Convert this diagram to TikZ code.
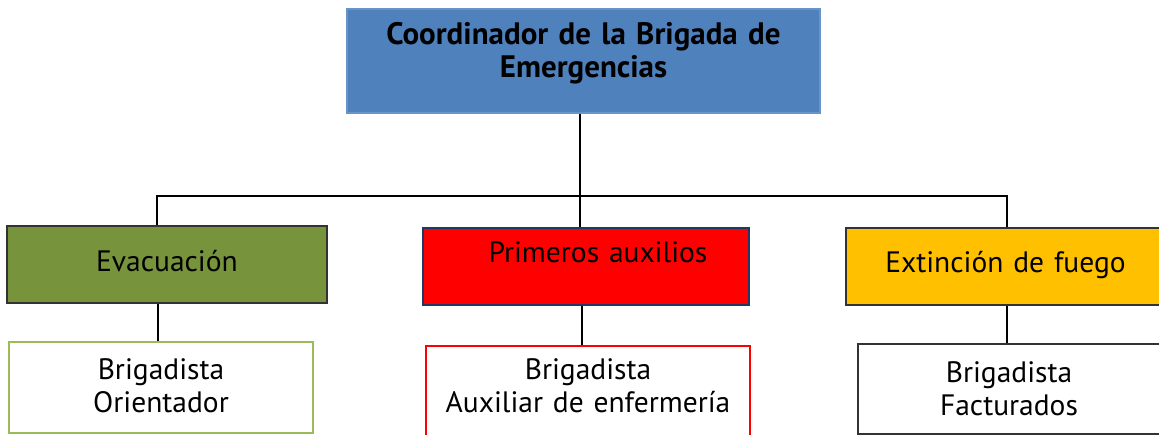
\documentclass[tikz,border=0pt]{standalone}
\usepackage{fontspec}
\setmainfont{PT Sans}
\definecolor{azulJefe}{HTML}{4F81BD}
\definecolor{verdeEvac}{HTML}{77933C}
\definecolor{verdeClaro}{HTML}{9BBB59}
\definecolor{amarilloFuego}{HTML}{FFC000}
\definecolor{marino}{HTML}{1F3864}
\begin{document}
\begin{tikzpicture}[x=1pt,y=-1pt,
  caja/.style={rectangle, inner sep=0pt, line width=1.5pt, align=center,
    font=\fontsize{29.5}{33}\selectfont},
  conector/.style={line width=1.3pt, black}]
\useasboundingbox (0,0) rectangle (1159,435);

\node (coord) [caja, fill=azulJefe, draw=azulJefe!85!white, text width=473pt,
  text height=36pt, text depth=68pt, font=\fontsize{31}{33}\selectfont\bfseries]
  at (583.5,61) {Coordinador de la Brigada de\\Emergencias};

\node (evac) [caja, fill=verdeEvac, draw=black!80, text width=320pt,
  text height=46pt, text depth=31pt] at (167,264.5) {Evacuación};
\node (prim) [caja, fill=red, draw=marino, text width=326pt,
  text height=35pt, text depth=42pt] at (586,266.5) {\hspace*{24pt}Primeros auxilios};
\node (fuego) [caja, fill=amarilloFuego, draw=black!80, text width=319pt,
  text height=45pt, text depth=32pt] at (1005.5,266.5) {Extinción de fuego};

\node (orient) [caja, draw=verdeClaro, text width=304pt,
  text height=38pt, text depth=53pt] at (161,387.5) {Brigadista\\Orientador};
\node (aux) [caja, draw=red, text width=324pt,
  text height=34pt, text depth=57pt] at (588,391.5) {Brigadista\\Auxiliar de enfermería};
\node (fact) [caja, draw=black!80, text width=302pt,
  text height=38pt, text depth=52pt] at (1009,389) {Brigadista\\Facturados};

\coordinate (bus) at (580,196);
\draw[conector] (coord.south -| bus) -- (bus);
\draw[conector] ([xshift=-10pt]evac.north) |- (bus) -| ([xshift=1.5pt]fuego.north);
\draw[conector] (bus) -- (prim.north -| bus);

\draw[conector] ([xshift=-9pt]evac.south) coordinate (e1) -- (orient.north -| e1);
\draw[conector] ([xshift=-4pt]prim.south) coordinate (e2) -- (aux.north -| e2);
\draw[conector] ([xshift=1.5pt]fuego.south) coordinate (e3) -- (fact.north -| e3);
\end{tikzpicture}
\end{document}
